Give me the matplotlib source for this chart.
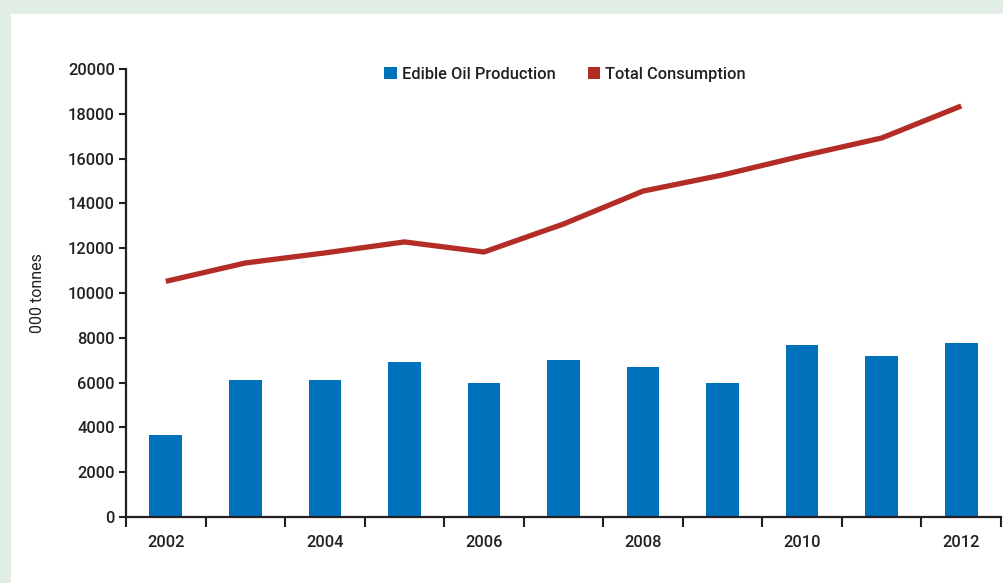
import numpy as np
import matplotlib.pyplot as plt
from matplotlib.patches import Patch, Rectangle

plt.rcParams['font.family'] = ['Roboto', 'DejaVu Sans']
plt.rcParams['font.weight'] = 'medium'

years = [2002, 2003, 2004, 2005, 2006, 2007, 2008, 2009, 2010, 2011, 2012]
production = [3650, 6100, 6100, 6920, 5980, 7010, 6700, 5970, 7680, 7190, 7750]
consumption = [10520, 11340, 11790, 12280, 11830, 13080, 14550, 15270, 16120, 16920, 18350]
year_labels = ['2002', '', '2004', '', '2006', '', '2008', '', '2010', '', '2012']

BLUE = '#0071bb'
RED = '#b32d26'
INK = '#231f20'

fig = plt.figure(figsize=(10.04, 5.83), dpi=100)
fig.patch.set_facecolor('#e2ede5')
# white card sitting on the pale green page
fig.add_artist(Rectangle((11 / 1004, 0), 1, (583 - 14) / 583,
                         transform=fig.transFigure, facecolor='white',
                         edgecolor='none', zorder=0))

ax = fig.add_axes([126 / 1004, 66 / 583, 875 / 1004, 448 / 583])
ax.set_facecolor('none')

x = np.arange(len(years))
ax.bar(x, production, width=0.41, color=BLUE, zorder=2)
ax.plot(x, consumption, color=RED, lw=3.8, solid_capstyle='butt', zorder=3)

ax.set_xlim(-0.5, len(years) - 0.5)
ax.set_ylim(0, 20000)
ax.set_yticks(np.arange(0, 20001, 2000))
ax.set_xticks(x, year_labels)
ax.set_xticks(np.arange(-0.5, len(years)), minor=True)
ax.tick_params(axis='x', which='major', length=0, pad=13, labelsize=11.8, labelcolor=INK)
ax.tick_params(axis='x', which='minor', length=7, width=1.5, color=INK, direction='out')
ax.tick_params(axis='y', length=5, width=1.5, color=INK, pad=3, labelsize=11.8, labelcolor=INK)

for side in ('top', 'right'):
    ax.spines[side].set_visible(False)
for side in ('left', 'bottom'):
    ax.spines[side].set_linewidth(1.6)
    ax.spines[side].set_color(INK)

ax.set_ylabel('000 tonnes', fontsize=11.5, color=INK)
ax.yaxis.set_label_coords(-0.092, 0.5)

handles = [Patch(facecolor=BLUE, edgecolor='none'),
           Patch(facecolor=RED, edgecolor='none')]
ax.legend(handles, ['Edible Oil Production', 'Total Consumption'],
          loc='center', bbox_to_anchor=(0.502, 0.988), ncol=2, frameon=False,
          fontsize=11.8, handlelength=0.75, handleheight=0.75, handletextpad=0.3,
          columnspacing=2.0, labelcolor=INK)

fig.savefig('out.png', dpi=100, facecolor=fig.get_facecolor())
